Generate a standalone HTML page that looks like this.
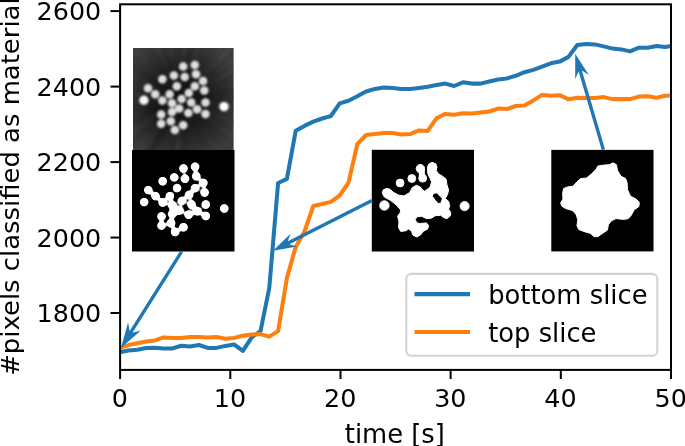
<!DOCTYPE html>
<html><head><meta charset="utf-8"><title>plot</title>
<style>html,body{margin:0;padding:0;background:#fff}svg{display:block;filter:blur(0.45px)}</style></head>
<body>
<svg width="685" height="446" viewBox="0 0 685 446" font-family="'DejaVu Sans', 'Liberation Sans', sans-serif" font-size="25.8" fill="#000">
<defs><clipPath id="ax"><rect x="120.1" y="4.3" width="550.9" height="365.6"/></clipPath><filter id="b1" x="-20%" y="-20%" width="140%" height="140%"><feGaussianBlur stdDeviation="1.15"/></filter><filter id="b2" x="-20%" y="-20%" width="140%" height="140%"><feGaussianBlur stdDeviation="0.6"/></filter><clipPath id="c1"><rect x="133" y="47.9" width="100.6" height="102"/></clipPath><clipPath id="c2"><rect x="132" y="149.9" width="102.5" height="101.7"/></clipPath><filter id="b3" x="120" y="35" width="130" height="130" filterUnits="userSpaceOnUse"><feGaussianBlur stdDeviation="1.5"/></filter><filter id="meta" x="125" y="143" width="117" height="116" filterUnits="userSpaceOnUse" color-interpolation-filters="sRGB"><feGaussianBlur stdDeviation="1.4"/><feComponentTransfer><feFuncR type="linear" slope="5" intercept="-1.5"/><feFuncG type="linear" slope="5" intercept="-1.5"/><feFuncB type="linear" slope="5" intercept="-1.5"/></feComponentTransfer></filter><radialGradient id="g1" gradientUnits="userSpaceOnUse" cx="181" cy="100" r="62"><stop offset="0" stop-color="#000" stop-opacity="0.75"/><stop offset="0.45" stop-color="#000" stop-opacity="0.55"/><stop offset="1" stop-color="#000" stop-opacity="0"/></radialGradient></defs>
<rect width="685" height="446" fill="#fff"/>
<g clip-path="url(#ax)" fill="none" stroke-width="4.05" stroke-linejoin="round" stroke-linecap="butt"><polyline points="119.7,352.2 128.5,350.4 137.3,349.7 146.1,347.9 154.9,347.7 163.7,348.4 172.5,348.4 181.3,345.7 190.1,346.5 198.9,345.0 207.7,347.9 216.5,347.9 225.3,345.9 234.1,344.5 242.9,350.9 251.7,337.4 260.5,331.1 269.3,287.8 278.1,183.0 286.9,178.9 295.7,130.8 304.5,125.9 313.3,121.7 322.1,118.5 330.9,116.0 339.7,103.4 348.5,100.7 357.3,96.3 366.1,91.5 374.9,88.9 383.7,87.6 392.5,87.9 401.3,88.9 410.1,88.9 418.9,87.9 427.7,86.8 436.5,85.0 445.3,83.6 454.1,86.0 462.9,82.3 471.7,83.6 480.5,83.6 489.3,81.5 498.1,79.5 506.9,78.4 515.7,75.8 524.5,72.2 533.3,69.9 542.1,66.6 550.9,63.3 559.7,61.6 568.5,56.9 577.3,45.0 586.1,43.9 594.9,44.4 603.7,46.4 612.5,48.6 621.3,49.4 630.1,51.4 638.9,47.7 647.7,47.7 656.5,45.9 665.3,47.1 674.1,45.4" stroke="#1f77b4"/><polyline points="119.7,347.9 128.5,345.1 137.3,343.2 146.1,341.6 154.9,340.4 163.7,337.4 172.5,337.9 181.3,337.9 190.1,337.1 198.9,336.9 207.7,337.6 216.5,337.1 225.3,338.8 234.1,337.9 242.9,335.7 251.7,334.6 260.5,334.1 269.3,336.6 278.1,331.1 286.9,278.1 295.7,247.0 304.5,231.5 313.3,206.0 322.1,204.0 330.9,201.9 339.7,195.5 348.5,182.6 357.3,144.2 366.1,135.0 374.9,134.0 383.7,132.9 392.5,133.0 401.3,134.6 410.1,134.1 418.9,130.4 427.7,130.9 436.5,118.3 445.3,113.9 454.1,114.7 462.9,113.3 471.7,113.6 480.5,112.5 489.3,111.5 498.1,108.6 506.9,109.1 515.7,106.0 524.5,105.4 533.3,100.4 542.1,94.9 550.9,95.7 559.7,95.2 568.5,99.3 577.3,97.7 586.1,98.0 594.9,98.0 603.7,97.1 612.5,99.1 621.3,99.1 630.1,99.1 638.9,96.6 647.7,96.3 656.5,97.7 665.3,95.7 674.1,95.5" stroke="#ff7f0e"/></g>
<g clip-path="url(#c1)"><rect x="130" y="45" width="107" height="108" fill="#3b3b3b"/><g filter="url(#b3)"><line x1="182.4" y1="117.9" x2="187.8" y2="189.7" stroke="#262626" stroke-width="1.8" stroke-opacity="0.35"/><line x1="196.5" y1="90.9" x2="258.7" y2="54.6" stroke="#505050" stroke-width="2.8" stroke-opacity="0.35"/><line x1="197.5" y1="107.2" x2="263.5" y2="136.0" stroke="#555" stroke-width="3.3" stroke-opacity="0.35"/><line x1="163.3" y1="103.5" x2="92.7" y2="117.3" stroke="#262626" stroke-width="2.0" stroke-opacity="0.35"/><line x1="199.0" y1="99.5" x2="271.0" y2="97.5" stroke="#505050" stroke-width="2.6" stroke-opacity="0.35"/><line x1="163.9" y1="94.5" x2="95.3" y2="72.4" stroke="#505050" stroke-width="2.8" stroke-opacity="0.35"/><line x1="191.5" y1="114.6" x2="233.6" y2="173.0" stroke="#4a4a4a" stroke-width="3.2" stroke-opacity="0.35"/><line x1="163.2" y1="97.4" x2="92.0" y2="86.9" stroke="#555" stroke-width="2.8" stroke-opacity="0.35"/><line x1="197.6" y1="107.0" x2="263.8" y2="135.2" stroke="#262626" stroke-width="1.6" stroke-opacity="0.35"/><line x1="184.4" y1="82.3" x2="197.9" y2="11.6" stroke="#222" stroke-width="2.4" stroke-opacity="0.35"/><line x1="177.5" y1="82.3" x2="163.5" y2="11.7" stroke="#505050" stroke-width="2.9" stroke-opacity="0.35"/><line x1="196.8" y1="91.4" x2="260.2" y2="57.2" stroke="#505050" stroke-width="3.0" stroke-opacity="0.35"/><line x1="165.1" y1="91.6" x2="101.3" y2="58.2" stroke="#4a4a4a" stroke-width="3.3" stroke-opacity="0.35"/><line x1="195.7" y1="110.3" x2="254.6" y2="151.7" stroke="#4a4a4a" stroke-width="2.5" stroke-opacity="0.35"/><line x1="180.1" y1="118.0" x2="176.5" y2="189.9" stroke="#505050" stroke-width="3.1" stroke-opacity="0.35"/><line x1="192.1" y1="85.8" x2="236.3" y2="29.0" stroke="#505050" stroke-width="2.5" stroke-opacity="0.35"/><line x1="167.4" y1="111.8" x2="113.2" y2="159.1" stroke="#222" stroke-width="2.6" stroke-opacity="0.35"/><line x1="166.0" y1="109.9" x2="105.8" y2="149.4" stroke="#4a4a4a" stroke-width="3.3" stroke-opacity="0.35"/><line x1="173.5" y1="83.6" x2="143.7" y2="18.1" stroke="#555" stroke-width="3.2" stroke-opacity="0.35"/><line x1="199.0" y1="99.0" x2="270.9" y2="94.9" stroke="#4a4a4a" stroke-width="2.9" stroke-opacity="0.35"/><line x1="172.7" y1="116.0" x2="139.4" y2="179.8" stroke="#262626" stroke-width="3.3" stroke-opacity="0.35"/><line x1="164.7" y1="92.4" x2="99.4" y2="62.1" stroke="#4a4a4a" stroke-width="2.8" stroke-opacity="0.35"/><line x1="198.9" y1="98.7" x2="270.7" y2="93.3" stroke="#222" stroke-width="2.1" stroke-opacity="0.35"/><line x1="197.6" y1="107.0" x2="263.9" y2="134.9" stroke="#505050" stroke-width="1.7" stroke-opacity="0.35"/><line x1="186.6" y1="82.9" x2="209.1" y2="14.5" stroke="#505050" stroke-width="3.3" stroke-opacity="0.35"/><line x1="198.9" y1="102.3" x2="270.3" y2="111.4" stroke="#505050" stroke-width="3.0" stroke-opacity="0.35"/><line x1="193.5" y1="87.1" x2="243.7" y2="35.5" stroke="#555" stroke-width="2.7" stroke-opacity="0.35"/><line x1="182.3" y1="82.0" x2="187.6" y2="10.2" stroke="#505050" stroke-width="2.9" stroke-opacity="0.35"/><line x1="172.2" y1="115.7" x2="137.2" y2="178.6" stroke="#222" stroke-width="2.5" stroke-opacity="0.35"/><line x1="199.0" y1="99.8" x2="271.0" y2="99.2" stroke="#222" stroke-width="1.5" stroke-opacity="0.35"/><line x1="195.0" y1="111.3" x2="251.0" y2="156.5" stroke="#262626" stroke-width="1.6" stroke-opacity="0.35"/><line x1="186.8" y1="117.0" x2="210.2" y2="185.1" stroke="#505050" stroke-width="2.1" stroke-opacity="0.35"/><line x1="179.5" y1="117.9" x2="173.4" y2="189.7" stroke="#555" stroke-width="3.5" stroke-opacity="0.35"/><line x1="171.4" y1="115.2" x2="132.9" y2="176.0" stroke="#222" stroke-width="3.4" stroke-opacity="0.35"/><line x1="195.3" y1="89.1" x2="252.7" y2="45.6" stroke="#505050" stroke-width="2.3" stroke-opacity="0.35"/><line x1="193.3" y1="86.9" x2="242.6" y2="34.4" stroke="#505050" stroke-width="2.8" stroke-opacity="0.35"/><line x1="166.2" y1="89.8" x2="106.8" y2="49.1" stroke="#262626" stroke-width="1.7" stroke-opacity="0.35"/><line x1="198.7" y1="96.9" x2="269.7" y2="84.7" stroke="#262626" stroke-width="2.0" stroke-opacity="0.35"/><line x1="169.0" y1="86.6" x2="121.2" y2="32.8" stroke="#4a4a4a" stroke-width="3.4" stroke-opacity="0.35"/><line x1="164.4" y1="106.9" x2="97.9" y2="134.5" stroke="#222" stroke-width="2.5" stroke-opacity="0.35"/></g><rect x="130" y="45" width="107" height="108" fill="url(#g1)"/><g filter="url(#b1)"><circle cx="183.2" cy="66.6" r="4.25" fill="#dedede"/><circle cx="194.8" cy="64.9" r="4.25" fill="#dedede"/><circle cx="173.9" cy="75.5" r="4.25" fill="#dedede"/><circle cx="162.4" cy="79.3" r="4.25" fill="#dedede"/><circle cx="184.7" cy="76.9" r="4.25" fill="#dedede"/><circle cx="196.0" cy="74.3" r="4.25" fill="#dedede"/><circle cx="203.1" cy="81.0" r="4.25" fill="#dedede"/><circle cx="148.0" cy="88.2" r="4.25" fill="#dedede"/><circle cx="176.8" cy="86.2" r="4.25" fill="#dedede"/><circle cx="194.8" cy="86.2" r="4.25" fill="#dedede"/><circle cx="204.3" cy="90.6" r="4.25" fill="#dedede"/><circle cx="155.2" cy="94.2" r="4.25" fill="#dedede"/><circle cx="169.6" cy="94.2" r="4.25" fill="#dedede"/><circle cx="188.8" cy="93.0" r="4.25" fill="#dedede"/><circle cx="143.9" cy="100.2" r="4.7" fill="#f6f6f6"/><circle cx="162.4" cy="100.6" r="4.25" fill="#dedede"/><circle cx="181.6" cy="99.0" r="4.25" fill="#dedede"/><circle cx="172.0" cy="103.3" r="4.25" fill="#dedede"/><circle cx="191.2" cy="102.6" r="4.25" fill="#dedede"/><circle cx="205.5" cy="102.6" r="4.25" fill="#dedede"/><circle cx="224.0" cy="106.6" r="4.7" fill="#fff"/><circle cx="179.2" cy="108.6" r="4.25" fill="#dedede"/><circle cx="197.1" cy="109.3" r="4.25" fill="#dedede"/><circle cx="161.2" cy="114.5" r="4.25" fill="#dedede"/><circle cx="172.0" cy="112.1" r="4.25" fill="#dedede"/><circle cx="188.3" cy="112.9" r="4.25" fill="#dedede"/><circle cx="205.5" cy="114.1" r="4.25" fill="#dedede"/><circle cx="161.2" cy="123.7" r="4.25" fill="#dedede"/><circle cx="170.8" cy="121.3" r="4.25" fill="#dedede"/><circle cx="183.2" cy="125.3" r="4.25" fill="#dedede"/><circle cx="174.8" cy="130.1" r="4.25" fill="#dedede"/></g></g>
<g clip-path="url(#c2)"><g filter="url(#meta)"><rect x="125" y="143" width="117" height="116" fill="#000"/><circle cx="183.5" cy="168.5" r="4.2" fill="#fff"/><circle cx="195.1" cy="166.8" r="4.2" fill="#fff"/><circle cx="174.2" cy="177.4" r="4.2" fill="#fff"/><circle cx="162.7" cy="181.2" r="4.2" fill="#fff"/><circle cx="185.0" cy="178.8" r="4.2" fill="#fff"/><circle cx="196.3" cy="176.2" r="4.2" fill="#fff"/><circle cx="203.4" cy="182.9" r="4.2" fill="#fff"/><circle cx="148.3" cy="190.1" r="4.2" fill="#fff"/><circle cx="177.1" cy="188.1" r="4.2" fill="#fff"/><circle cx="195.1" cy="188.1" r="4.2" fill="#fff"/><circle cx="204.6" cy="192.5" r="4.2" fill="#fff"/><circle cx="155.5" cy="196.1" r="4.2" fill="#fff"/><circle cx="169.9" cy="196.1" r="4.2" fill="#fff"/><circle cx="189.1" cy="194.9" r="4.2" fill="#fff"/><circle cx="144.2" cy="202.1" r="4.2" fill="#fff"/><circle cx="162.7" cy="202.5" r="4.2" fill="#fff"/><circle cx="181.9" cy="200.9" r="4.2" fill="#fff"/><circle cx="172.3" cy="205.2" r="4.2" fill="#fff"/><circle cx="191.5" cy="204.5" r="4.2" fill="#fff"/><circle cx="205.8" cy="204.5" r="4.2" fill="#fff"/><circle cx="224.3" cy="208.5" r="4.2" fill="#fff"/><circle cx="179.5" cy="210.5" r="4.2" fill="#fff"/><circle cx="197.4" cy="211.2" r="4.2" fill="#fff"/><circle cx="161.5" cy="216.4" r="4.2" fill="#fff"/><circle cx="172.3" cy="214.0" r="4.2" fill="#fff"/><circle cx="188.6" cy="214.8" r="4.2" fill="#fff"/><circle cx="205.8" cy="216.0" r="4.2" fill="#fff"/><circle cx="161.5" cy="225.6" r="4.2" fill="#fff"/><circle cx="171.1" cy="223.2" r="4.2" fill="#fff"/><circle cx="183.5" cy="227.2" r="4.2" fill="#fff"/><circle cx="175.1" cy="232.0" r="4.2" fill="#fff"/></g></g>
<rect x="371.8" y="149.8" width="102.2" height="101.7" fill="#000"/>
<g filter="url(#b2)" fill="#fff" stroke="#fff" stroke-width="1" stroke-linejoin="round"><path fill-rule="evenodd" d="M382.2,193.1 L383.3,189.8 L386.7,188.4 L390.0,189.2 L393.9,192.6 L398.4,195.0 L404.0,195.9 L409.6,192.6 L412.4,187.5 L416.4,185.3 L420.3,187.0 L422.5,189.8 L424.8,191.3 L430.0,187.2 L431.6,182.1 L430.0,178.2 L428.3,174.8 L427.4,171.5 L427.7,167.0 L429.1,163.8 L432.2,162.5 L435.6,163.8 L436.9,167.0 L436.1,170.3 L438.4,173.7 L442.9,176.5 L446.2,179.3 L446.9,184.5 L448.6,190.1 L447.5,194.6 L445.2,198.5 L448.6,201.3 L449.7,205.8 L448.6,209.2 L450.8,212.5 L450.3,215.9 L446.9,218.7 L443.6,217.6 L440.7,215.3 L435.3,215.7 L431.0,218.3 L426.3,218.6 L421.8,216.3 L416.9,216.8 L415.2,219.6 L416.9,222.9 L420.3,223.5 L426.4,222.9 L428.7,225.7 L427.6,229.1 L423.1,231.4 L420.8,234.7 L416.9,237.0 L413.0,235.3 L411.3,230.8 L408.5,229.1 L405.7,230.8 L400.7,231.4 L398.4,227.4 L399.0,221.8 L397.6,216.2 L400.1,212.9 L400.7,210.0 L396.2,204.9 L390.6,200.4 L384.4,197.1Z"/><circle cx="420.4" cy="168.7" r="4.2"/><circle cx="422.7" cy="178.2" r="3.9"/><rect x="419.3" y="170" width="5" height="7"/><circle cx="400.1" cy="183.0" r="3.9"/><circle cx="411.8" cy="178.5" r="3.9"/><circle cx="384.4" cy="205.5" r="4.7"/><circle cx="464.6" cy="206.1" r="4.5"/><circle cx="432.3" cy="167.2" r="4.4"/></g>
<polygon points="433.5,194.0 436.8,193.2 441.9,198.5 440.7,202.4 438.5,203.3 435.7,200.2 432.9,196.3" fill="#000" filter="url(#b2)"/>
<rect x="551.3" y="149.9" width="102.2" height="101.5" fill="#000"/>
<polygon points="596.0,169.4 597.9,166.0 602.7,165.2 609.3,164.7 613.2,162.8 616.4,164.7 617.5,170.4 620.8,176.1 625.6,178.6 627.1,182.8 627.5,189.5 630.3,196.1 636.0,199.0 639.3,202.2 638.9,206.6 634.1,209.9 631.3,215.2 628.4,218.6 623.6,219.4 616.0,218.6 611.2,220.9 608.4,224.7 607.4,230.1 602.7,233.3 597.9,236.6 594.1,236.6 590.3,233.3 583.6,231.4 578.8,229.5 576.9,225.7 577.9,220.0 576.0,214.2 572.2,210.4 565.5,208.5 561.7,206.1 560.7,202.8 563.0,199.0 562.6,193.3 563.6,188.5 567.4,187.0 573.1,186.2 576.9,181.8 580.7,178.6 586.5,178.0 591.2,174.2" fill="#fff" stroke="#fff" stroke-width="1" stroke-linejoin="round" filter="url(#b2)"/>
<polygon points="120.9,348.0 140.9,330.5 132.5,332.8 183.0,252.5 180.2,250.7 129.6,331.0 128.1,322.4" fill="#1f77b4"/>
<polygon points="273.0,250.7 297.0,246.6 289.4,244.3 372.8,202.0 371.2,199.0 287.8,241.3 290.5,233.7" fill="#1f77b4"/>
<polygon points="575.2,53.8 575.2,79.1 578.6,71.5 601.8,150.3 605.0,149.3 581.9,70.6 588.9,75.1" fill="#1f77b4"/>
<rect x="120.1" y="4.3" width="550.9" height="365.6" fill="none" stroke="#000" stroke-width="2"/>
<line x1="120.1" y1="369.9" x2="120.1" y2="379.0" stroke="#000" stroke-width="2"/>
<text transform="translate(119.8,407.2) scale(0.985,0.965)" text-anchor="middle">0</text>
<line x1="230.3" y1="369.9" x2="230.3" y2="379.0" stroke="#000" stroke-width="2"/>
<text transform="translate(230.0,407.2) scale(0.985,0.965)" text-anchor="middle">10</text>
<line x1="340.5" y1="369.9" x2="340.5" y2="379.0" stroke="#000" stroke-width="2"/>
<text transform="translate(340.2,407.2) scale(0.985,0.965)" text-anchor="middle">20</text>
<line x1="450.6" y1="369.9" x2="450.6" y2="379.0" stroke="#000" stroke-width="2"/>
<text transform="translate(450.3,407.2) scale(0.985,0.965)" text-anchor="middle">30</text>
<line x1="560.8" y1="369.9" x2="560.8" y2="379.0" stroke="#000" stroke-width="2"/>
<text transform="translate(560.5,407.2) scale(0.985,0.965)" text-anchor="middle">40</text>
<line x1="671.0" y1="369.9" x2="671.0" y2="379.0" stroke="#000" stroke-width="2"/>
<text transform="translate(670.7,407.2) scale(0.985,0.965)" text-anchor="middle">50</text>
<line x1="110.5" y1="11.1" x2="120.1" y2="11.1" stroke="#000" stroke-width="2"/>
<text transform="translate(101.2,20.1) scale(0.985,0.965)" text-anchor="end">2600</text>
<line x1="110.5" y1="86.6" x2="120.1" y2="86.6" stroke="#000" stroke-width="2"/>
<text transform="translate(101.2,95.6) scale(0.985,0.965)" text-anchor="end">2400</text>
<line x1="110.5" y1="162.1" x2="120.1" y2="162.1" stroke="#000" stroke-width="2"/>
<text transform="translate(101.2,171.1) scale(0.985,0.965)" text-anchor="end">2200</text>
<line x1="110.5" y1="237.55" x2="120.1" y2="237.55" stroke="#000" stroke-width="2"/>
<text transform="translate(101.2,246.6) scale(0.985,0.965)" text-anchor="end">2000</text>
<line x1="110.5" y1="313.0" x2="120.1" y2="313.0" stroke="#000" stroke-width="2"/>
<text transform="translate(101.2,322.0) scale(0.985,0.965)" text-anchor="end">1800</text>
<text x="394.8" y="442.8" text-anchor="middle">time [s]</text>
<text transform="translate(19.2,186.6) rotate(-90) scale(1.0035,0.98)" text-anchor="middle">#pixels classified as material</text>
<rect x="406.3" y="273.9" width="251" height="81.9" rx="5" ry="5" fill="#fff" fill-opacity="0.8" stroke="#d2d2d2" stroke-width="2.06"/>
<line x1="414.5" y1="294.1" x2="470" y2="294.1" stroke="#1f77b4" stroke-width="4.05"/>
<line x1="414.5" y1="332.0" x2="470" y2="332.0" stroke="#ff7f0e" stroke-width="4.05"/>
<text x="488.2" y="304.0">bottom slice</text>
<text x="488.2" y="341.8">top slice</text>
</svg>
</body></html>
